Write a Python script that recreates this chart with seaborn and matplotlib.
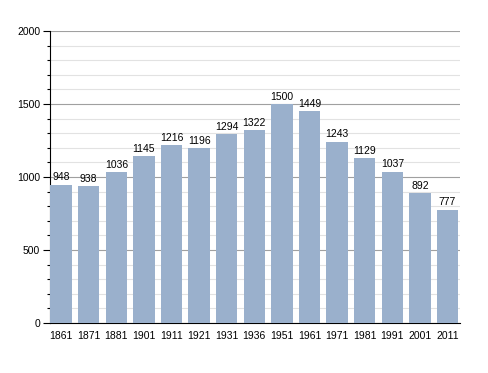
import pandas as pd
import matplotlib.pyplot as plt
import seaborn as sns
from matplotlib.ticker import MultipleLocator

years = ["1861", "1871", "1881", "1901", "1911", "1921", "1931", "1936",
         "1951", "1961", "1971", "1981", "1991", "2001", "2011"]
population = [948, 938, 1036, 1145, 1216, 1196, 1294, 1322,
              1500, 1449, 1243, 1129, 1037, 892, 777]

df = pd.DataFrame({"year": years, "pop": population})

sns.set_style("white")
plt.rcParams["font.family"] = ["Liberation Sans", "DejaVu Sans"]
plt.rcParams["text.color"] = "black"
plt.rcParams["xtick.color"] = "black"
plt.rcParams["ytick.color"] = "black"

fig = plt.figure(figsize=(4.88, 3.73), dpi=100)
ax = fig.add_axes([0.1025, 0.134, 0.840, 0.783])

sns.barplot(data=df, x="year", y="pop", color="#9ab0cc", saturation=1,
            width=0.78, ax=ax, zorder=3, linewidth=0, edgecolor="none")

# value labels above bars
for i, v in enumerate(population):
    ax.text(i, v + 15, str(v), ha="center", va="bottom", fontsize=7.5,
            color="black", zorder=4)

ax.set_ylim(0, 2000)
ax.set_xlim(-0.4, 14.45)
ax.yaxis.set_major_locator(MultipleLocator(500))
ax.yaxis.set_minor_locator(MultipleLocator(100))
ax.grid(axis="y", which="major", color="#a0a0a0", linewidth=0.8, zorder=0)
ax.grid(axis="y", which="minor", color="#e2e2e2", linewidth=0.8, zorder=0)
ax.set_axisbelow(True)

for s in ["top", "right"]:
    ax.spines[s].set_visible(False)
for s in ["left", "bottom"]:
    ax.spines[s].set_color("black")
    ax.spines[s].set_linewidth(0.8)

ax.tick_params(axis="y", which="major", left=True, length=5, width=0.8,
               labelsize=7.5, pad=2, colors="black")
ax.tick_params(axis="y", which="minor", left=True, length=2.5, width=0.8,
               colors="black")
ax.tick_params(axis="x", bottom=False, labelsize=7.5, pad=2, colors="black")
ax.set_xlabel("")
ax.set_ylabel("")

fig.savefig("out.png", dpi=100)
